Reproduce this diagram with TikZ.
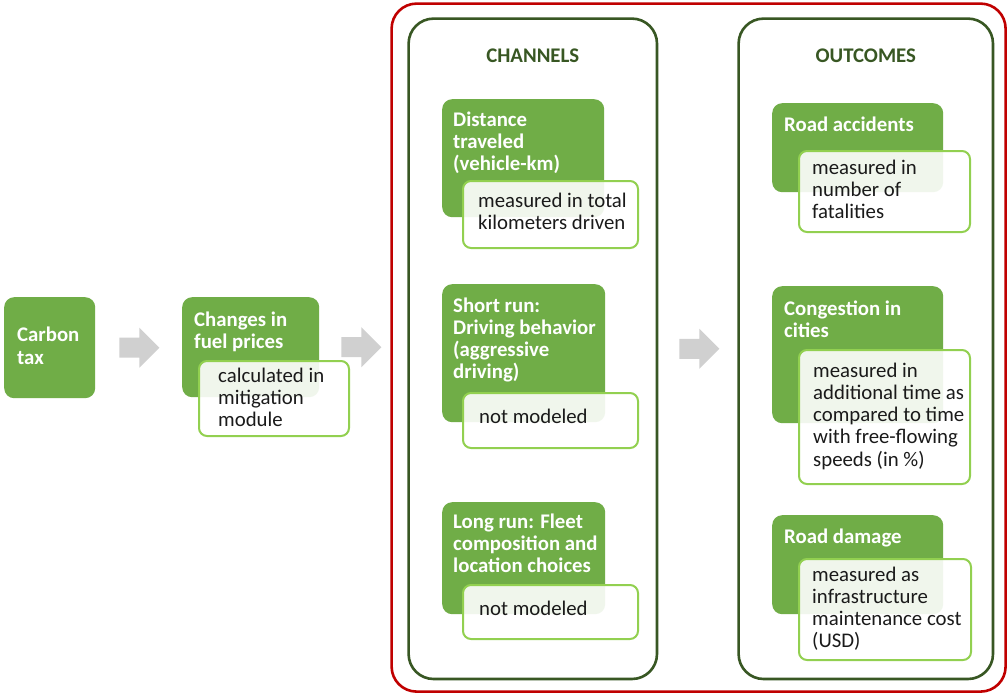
\documentclass[tikz,border=0pt]{standalone}
\usepackage{fontspec}
\setmainfont{Carlito}
\usetikzlibrary{calc}
\definecolor{gfill}{HTML}{70AD47}
\definecolor{gline}{HTML}{92D050}
\definecolor{dgreen}{HTML}{385723}
\definecolor{redc}{HTML}{C00000}
\definecolor{agray}{HTML}{D0D0D0}
\definecolor{tblack}{HTML}{1A1A1A}
\newcommand\blockarrow[1]{\fill[agray] (#1) ++(0,-10) -- ++(20,0) -- ++(0,-10) -- ++(20,20) -- ++(-20,20) -- ++(0,-10) -- ++(-20,0) -- cycle;}
\begin{document}
\begin{tikzpicture}[x=1pt,y=-1pt,
 gbox/.style={fill=gfill, rounded corners=10pt, anchor=north west, inner sep=0pt},
 nbox/.style={fill=white, fill opacity=0.9, draw=gline, line width=2pt, rounded corners=8pt, anchor=north west, inner sep=0pt},
 frame/.style={draw=dgreen, fill=white, line width=2.6pt, rounded corners=25pt, anchor=north west, inner sep=0pt},
 gtxt/.style={anchor=base west, align=left, inner sep=0pt, text=white, font=\fontsize{20.8}{22.3}\selectfont\bfseries},
 ntxt/.style={anchor=base west, align=left, inner sep=0pt, text=tblack, font=\fontsize{20.8}{22.3}\selectfont},
 head/.style={anchor=base, inner sep=0pt, text=dgreen, font=\fontsize{20.8}{22.3}\selectfont\bfseries},
]
\useasboundingbox[fill=white] (0,0) rectangle (1007,693);

% outer red frame
\node[draw=redc, line width=2.6pt, rounded corners=25pt, anchor=north west, inner sep=0pt,
      minimum width=614pt, minimum height=688pt] (outer) at (390.3,2.3) {};
% channel / outcome frames
\node[frame, minimum width=248.4pt, minimum height=660.4pt] (ch) at (407.3,17.3) {};
\node[frame, minimum width=254.4pt, minimum height=660.4pt] (oc) at (737.3,17.3) {};
\node[head] (chh) at ($(ch.north)+(0,45)$) {CHANNELS};
\node[head] (och) at ($(oc.north)+(0,45)$) {OUTCOMES};

% left chain (text anchors give the baseline of the last line)
\node[gbox, minimum width=91pt, minimum height=101pt] (ct) at (4,297) {};
\node[gtxt] (ctt) at (17,364) {Carbon\\tax};
\node[gbox, minimum width=137pt, minimum height=100pt] (fp) at (182,297) {};
\node[gtxt] (fpt) at (194,348.3) {Changes in\\fuel prices};
\node[nbox, minimum width=150pt, minimum height=75pt] (fpn) at (198,360) {};
\node[ntxt] (fpnt) at (218,426.6) {calculated in\\mitigation\\module};

% channels
\node[gbox, minimum width=162pt, minimum height=118pt] (d1) at (442,99) {};
\node[gtxt] (d1t) at (453,170.6) {Distance\\traveled\\(vehicle-km)};
\node[nbox, minimum width=175pt, minimum height=67pt] (d1n) at (462,180) {};
\node[ntxt] (d1nt) at (478,229.3) {measured in total\\kilometers driven};

\node[gbox, minimum width=163pt, minimum height=138pt] (d2) at (442,284) {};
\node[gtxt] (d2t) at (453,378.9) {Short run:\\Driving behavior\\(aggressive\\driving)};
\node[nbox, minimum width=175pt, minimum height=55pt] (d2n) at (462,392) {};
\node[ntxt] (d2nt) at (479,423) {not modeled};

\node[gbox, minimum width=163pt, minimum height=112pt] (d3) at (442,502) {};
\node[gtxt] (d3t) at (453,572.6) {Long run: Fleet\\composition and\\location choices};
\node[nbox, minimum width=175pt, minimum height=54pt] (d3n) at (462,584) {};
\node[ntxt] (d3nt) at (479,615) {not modeled};

% outcomes
\node[gbox, minimum width=171pt, minimum height=89pt] (o1) at (772,103) {};
\node[gtxt] (o1t) at (784,131) {Road accidents};
\node[nbox, minimum width=171pt, minimum height=81pt] (o1n) at (798,150) {};
\node[ntxt] (o1nt) at (812,218.6) {measured in\\number of\\fatalities};

\node[gbox, minimum width=171pt, minimum height=137pt] (o2) at (772,286) {};
\node[gtxt] (o2t) at (784,337.3) {Congestion in\\cities};
\node[nbox, minimum width=171pt, minimum height=134pt] (o2n) at (798,349) {};
\node[ntxt] (o2nt) at (813,466.2) {measured in\\additional time as\\compared to time\\with free-flowing\\speeds (in \%)};

\node[gbox, minimum width=171pt, minimum height=99pt] (o3) at (772,515) {};
\node[gtxt] (o3t) at (784,543) {Road damage};
\node[nbox, minimum width=172pt, minimum height=101pt] (o3n) at (798,558) {};
\node[ntxt] (o3nt) at (812,647.9) {measured as\\infrastructure\\maintenance cost\\(USD)};

% block arrows
\coordinate (a1) at ($(ct.east)+(24,0)$);
\coordinate (a2) at ($(fp.east)+(22,0)$);
\coordinate (a3) at ($(ch.east)+(21,0)$);
\blockarrow{a1}
\blockarrow{a2}
\blockarrow{a3}
\end{tikzpicture}
\end{document}
